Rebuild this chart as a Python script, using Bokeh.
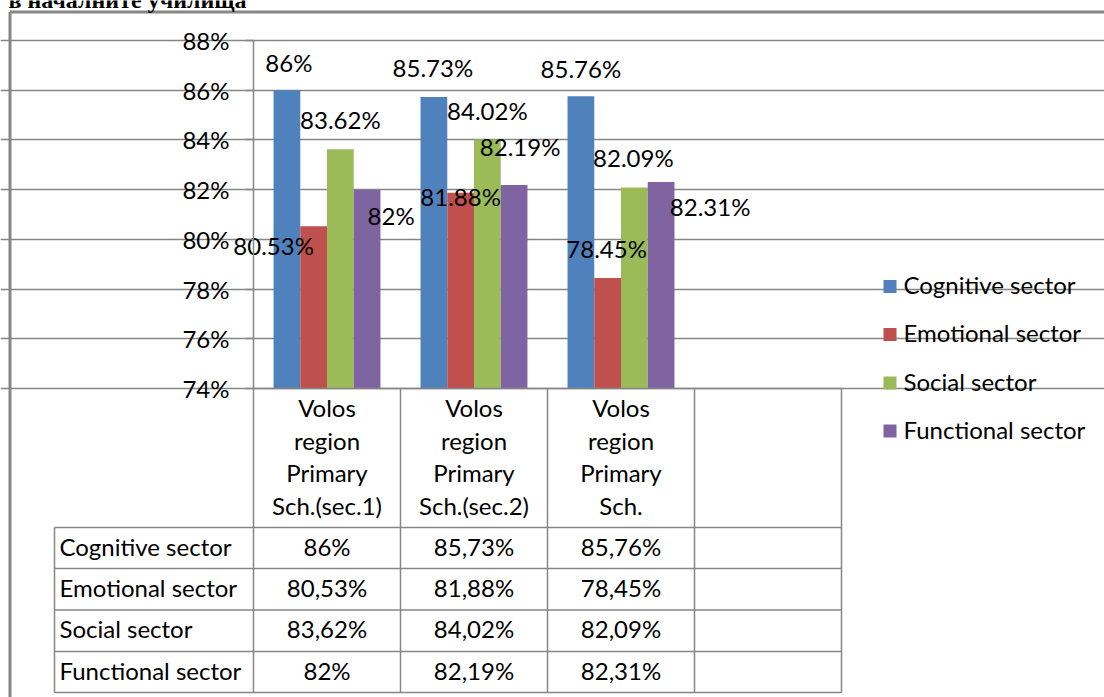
from bokeh.plotting import figure
from bokeh.models import Range1d, LinearAxis, FixedTicker, PrintfTickFormatter, Grid, ColumnDataSource
from bokeh.core.properties import value
from bokeh.embed import file_html
from bokeh.resources import INLINE

# ---------------- data ----------------
title_text = "в началните училища"
categories = ["Volos\nregion\nPrimary\nSch.(sec.1)",
              "Volos\nregion\nPrimary\nSch.(sec.2)",
              "Volos\nregion\nPrimary\nSch.",
              ""]
series_names = ["Cognitive sector", "Emotional sector", "Social sector", "Functional sector"]
cognitive = [86.00, 85.73, 85.76]
emotional = [80.53, 81.88, 78.45]
social = [83.62, 84.02, 82.09]
functional = [82.00, 82.19, 82.31]
y_ticks = [74, 76, 78, 80, 82, 84, 86, 88]

# ---------------- styles / layout ----------------
series_values = [cognitive, emotional, social, functional]
colors = ["#4F81BD", "#C0504D", "#9BBB59", "#8064A2"]
TY = -2  # small vertical nudge for centred texts (screen px)
# data-label offsets (screen px) relative to the top-centre of each bar
label_dx = [[2, -1, 0], [-40, 0, -1], [0, 0, -1], [24, 6, 49]]
label_dy = [[-26, -27, -26], [21, 6, -27], [-28, -27, -28], [28, -36, 27]]
label_dy = [[d + TY for d in row] for row in label_dy]

GRAY = "#868686"
FONT = "Lato"
FS = "24px"
W, H = 1104, 697
PX0, PXU = 253.0, 147.0          # pixel of category 0 edge, pixels per category
PY88, PYU = 40.0, 348.0 / 14.0   # pixel of 88 %, pixels per 1 %


def dx(px):
    return (px - PX0) / PXU


def dy(py):
    return 88.0 - (py - PY88) / PYU


p = figure(width=W, height=H, output_backend="svg", toolbar_location=None, tools="",
           x_range=Range1d(dx(0), dx(W)), y_range=Range1d(dy(H), dy(0)),
           x_axis_type=None, y_axis_type=None, min_border=0,
           outline_line_color=None)
p.background_fill_color = "white"
p.border_fill_color = "white"

# grid + y axis
grid = Grid(dimension=1, ticker=FixedTicker(ticks=y_ticks), bounds=(0, 4),
            grid_line_color=GRAY, grid_line_width=1.5)
p.add_layout(grid)

yaxis = LinearAxis(fixed_location=0, ticker=FixedTicker(ticks=y_ticks),
                   formatter=PrintfTickFormatter(format="%d%%"), bounds=(74, 88))
yaxis.major_tick_in = 0
yaxis.major_tick_out = 8
yaxis.minor_tick_in = 0
yaxis.minor_tick_out = 0
yaxis.axis_line_color = GRAY
yaxis.axis_line_width = 1.5
yaxis.major_tick_line_color = GRAY
yaxis.major_tick_line_width = 1.5
yaxis.major_label_text_font = FONT
yaxis.major_label_text_font_size = FS
yaxis.major_label_text_color = "black"
yaxis.major_label_standoff = 16
p.add_layout(yaxis, "left")

# bars
n_ser = len(series_names)
bw = 1.0 / (n_ser + 1.5)


def fmt(v, sep):
    s = "%d%%" % round(v) if abs(v - round(v)) < 1e-9 else ("%.2f%%" % v)
    return s.replace(".", sep)


label_sources = []
for j, (name, vals, col) in enumerate(zip(series_names, series_values, colors)):
    xs = [i + 0.5 + (j - (n_ser - 1) / 2.0) * bw for i in range(len(vals))]
    src = ColumnDataSource(dict(x=xs, top=vals, lab=[fmt(v, ".") for v in vals],
                                ox=label_dx[j], oy=label_dy[j]))
    p.vbar(x="x", top="top", bottom=74, width=bw, source=src, fill_color=col, line_color=None)
    label_sources.append(src)

# data labels drawn above all bars
for src in label_sources:
    p.text(x="x", y="top", text="lab", x_offset="ox", y_offset="oy", source=src,
           text_font=value(FONT), text_font_size=FS, text_color="black",
           text_align="center", text_baseline="middle")

# outer frame of the chart (partially visible)
p.segment(x0=[dx(9.5), dx(9.5)], y0=[dy(11.5), dy(11.5)],
          x1=[dx(W + 10), dx(9.5)], y1=[dy(11.5), dy(H + 10)],
          line_color=GRAY, line_width=3)

# cut-off title above the chart (only its lower part lies inside the picture)
p.text(x=[dx(8)], y=[dy(-1)], text=[title_text], text_font=value("Liberation Serif"),
       text_font_style="bold", text_font_size="24px", text_color="black",
       text_baseline="alphabetic", text_align="left")

# ---------------- data table ----------------
n_cat = len(categories)
row_edges = [527, 568, 609.5, 651, 692]
tab_left = 54
# horizontal lines
hx0 = [0.0] + [dx(tab_left)] * len(row_edges)
hx1 = [float(n_cat)] * (len(row_edges) + 1)
hy = [74.0] + [dy(r) for r in row_edges]
p.segment(x0=hx0, y0=hy, x1=hx1, y1=hy, line_color=GRAY, line_width=1.5)
# vertical lines
vx = [dx(tab_left)] + [float(i) for i in range(n_cat + 1)]
vy0 = [dy(row_edges[0])] + [74.0] * (n_cat + 1)
vy1 = [dy(row_edges[-1])] * (n_cat + 2)
p.segment(x0=vx, y0=vy0, x1=vx, y1=vy1, line_color=GRAY, line_width=1.5)

# header (category names)
hdr_lines = [409, 441.5, 474, 506.5]
hx, hyv, ht = [], [], []
for i, c in enumerate(categories):
    if not c:
        continue
    for k, line in enumerate(c.split("\n")):
        hx.append(i + 0.5)
        hyv.append(dy(hdr_lines[k] + TY))
        ht.append(line)
p.text(x=hx, y=hyv, text=ht, text_font=value(FONT), text_font_size=FS, text_color="black",
       text_align="center", text_baseline="middle")

# rows
row_mid = [(row_edges[k] + row_edges[k + 1]) / 2.0 + TY for k in range(len(row_edges) - 1)]
p.text(x=[dx(59)] * n_ser, y=[dy(r) for r in row_mid], text=series_names,
       text_font=value(FONT), text_font_size=FS, text_color="black",
       text_align="left", text_baseline="middle")
cx, cy, ct = [], [], []
for j, vals in enumerate(series_values):
    for i, v in enumerate(vals):
        cx.append(i + 0.5)
        cy.append(dy(row_mid[j]))
        ct.append(fmt(v, ","))
p.text(x=cx, y=cy, text=ct, text_font=value(FONT), text_font_size=FS, text_color="black",
       text_align="center", text_baseline="middle")

# ---------------- legend ----------------
leg_y = [286, 334, 382.5, 430.5]
p.rect(x=[dx(889.5)] * n_ser, y=[dy(v) for v in leg_y], width=13, height=13,
       width_units="screen", height_units="screen", fill_color=colors, line_color=None)
p.text(x=[dx(903)] * n_ser, y=[dy(v + TY) for v in leg_y], text=series_names,
       text_font=value(FONT), text_font_size=FS, text_color="black",
       text_align="left", text_baseline="middle")

open("out.html", "w").write(file_html(p, INLINE))
